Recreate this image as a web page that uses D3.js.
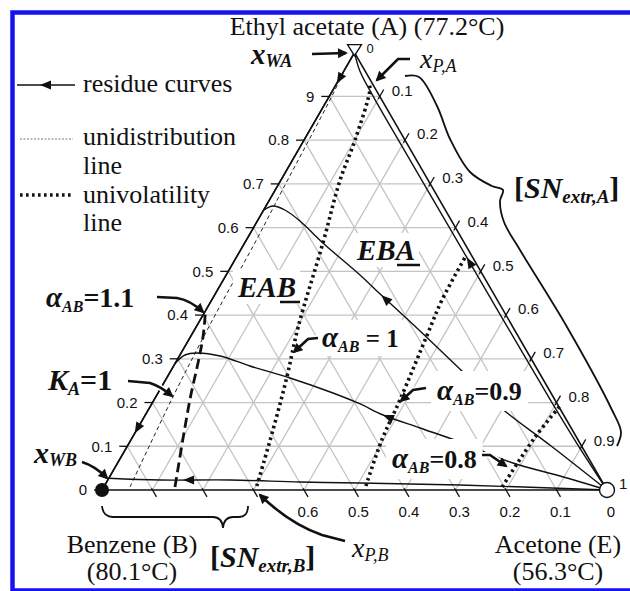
<!DOCTYPE html>
<html><head><meta charset="utf-8">
<script src="https://cdn.jsdelivr.net/npm/d3@7/dist/d3.min.js"></script>
<style>body{margin:0;background:#fff}svg{display:block}text{white-space:pre}</style>
</head><body>
<svg id="chart" width="630" height="591"></svg>
<script>
// ---------------- DATA (ternary compositions: [xA ethyl acetate, xE acetone]; xB = 1 - xA - xE) ----------------
const gridFractions = [0.1,0.2,0.3,0.4,0.5,0.6,0.7,0.8,0.9];
const tickFractions = [0,0.1,0.2,0.3,0.4,0.5,0.6,0.7,0.8,0.9,1];
const leftTickLabels   = ["0","0.1","0.2","0.3","0.4","0.5","0.6","0.7","0.8","9",""];   // xA along B–A edge
const rightTickLabels  = ["0","0.1","0.2","0.3","0.4","0.5","0.6","0.7","0.8","0.9","1"]; // xE along A–E edge
const bottomTickLabels = ["0","0.1","0.2","0.3","0.4","0.5","0.6","","","",""];          // xB along E–B edge

// residue curves (ordered in direction of increasing boiling temperature: E -> ... -> B)
const rcBottom = [[0,1],[0.0114,0.703],[0.016,0.503],[0.0183,0.383],[0.0229,0.242],[0.0229,0.1035],[0.027,0.0]];
const rcLow    = [[0,1],[0.032,0.891],[0.0617,0.783],[0.1098,0.654],[0.1418,0.559],[0.1715,0.471],[0.1967,0.413],[0.2241,0.340],[0.2561,0.244],[0.2836,0.151],[0.3064,0.0805],[0.3133,0.0315],[0.3087,0.010],[0.29,0.0]];
const rcHigh   = [[0,1],[0.10,0.84],[0.1898,0.693],[0.2698,0.580],[0.3636,0.448],[0.4459,0.330],[0.4917,0.265],[0.5648,0.155],[0.6151,0.0845],[0.6403,0.042],[0.6494,0.014],[0.64,0.0]];
const rcEdgeAE = [[0,1],[0.1,0.894],[0.2,0.791],[0.4,0.589],[0.6,0.388],[0.8,0.187],[0.9,0.087],[0.96,0.03],[1,0]];
const rcEdgeAB = [[1,0],[0,0]];
const residueCurves = [rcBottom, rcLow, rcHigh, rcEdgeAE, rcEdgeAB];
// arrow locations on residue curves
const residueArrows = [[rcBottom,[0.023,0.149]],[rcLow,[0.1715,0.471]],[rcHigh,[0.4459,0.330]],[rcEdgeAE,[0.5305,0.4555]],[rcEdgeAB,[0.93,0]],[rcEdgeAB,[0.13,0]]];

// unidistribution line K_A = 1
const unidistribution = [[0.007,0.052],[0.213,0.034],[0.40,0.024],[0.57,0.02],[0.69,0.014],[0.9,0.005],[0.96,0.0]];
// univolatility lines
const alpha11 = [[0.007,0.141],[0.206,0.071],[0.290,0.045],[0.350,0.025],[0.41,0.0]];
const alpha10 = [[0.009,0.302],[0.137,0.270],[0.258,0.237],[0.373,0.202],[0.565,0.155],[0.709,0.117],[0.80,0.101],[0.915,0.073],[0.93,0.064]];
const alpha09 = [[0.009,0.518],[0.114,0.497],[0.206,0.487],[0.359,0.466],[0.434,0.456],[0.531,0.453]];
const alpha08 = [[0.007,0.789],[0.121,0.797],[0.192,0.811]];

// singular points: A (top), B (bottom left), E (bottom right)
const vertexA = [1,0], vertexB = [0,0], vertexE = [0,1];

// ---------------- LAYOUT ----------------
const SERIF = "'Liberation Serif','Times New Roman',serif";
const SANS  = "'Liberation Sans',Arial,sans-serif";
const svg = d3.select("#chart");
const xs = d3.scaleLinear().domain([0,1]).range([102,607]);
const ys = d3.scaleLinear().domain([0,1]).range([490,52.7]);
const P = (a,e) => [xs(e + a/2), ys(a)];
const line = d3.line().x(d=>P(d[0],d[1])[0]).y(d=>P(d[0],d[1])[1]);
const smooth = d3.line().x(d=>P(d[0],d[1])[0]).y(d=>P(d[0],d[1])[1]).curve(d3.curveCatmullRom.alpha(0.5));

const defs = svg.append("defs");
defs.append("marker").attr("id","ah").attr("viewBox","0 0 10 10").attr("refX",8).attr("refY",5)
  .attr("markerUnits","userSpaceOnUse").attr("markerWidth",12).attr("markerHeight",10).attr("orient","auto")
  .append("path").attr("d","M0,0L10,5L0,10Z").attr("fill","#111");

// frame
svg.append("rect").attr("x",12.5).attr("y",12.5).attr("width",660).attr("height",578)
  .attr("fill","none").attr("stroke","#1414f0").attr("stroke-width",4.5);

// grid
const grid = svg.append("g").attr("stroke","#c4c4c4").attr("stroke-width",1.3);
gridFractions.forEach(f=>{
  grid.append("path").attr("d",line([[f,0],[f,1-f]]));
  grid.append("path").attr("d",line([[0,f],[1-f,f]]));
  grid.append("path").attr("d",line([[0,1-f],[1-f,0]]));
});

// ticks and tick labels
const ticks = svg.append("g").attr("stroke","#111").attr("stroke-width",1.3);
const tl = svg.append("g").attr("font-family",SANS).attr("font-size",15).attr("fill","#111");
const c60 = Math.cos(Math.PI/3), s60 = Math.sin(Math.PI/3);
tickFractions.forEach((f,i)=>{
  if (f<1){ const [x,y]=P(f,0);
    ticks.append("line").attr("x1",x).attr("y1",y).attr("x2",x-8).attr("y2",y);
    tl.append("text").attr("x",x-15).attr("y",y).attr("dy","0.35em").attr("text-anchor","end").text(leftTickLabels[i]); }
  { const [x,y]=P(1-f,f);
    if (f>0 && f<1) ticks.append("line").attr("x1",x-3*c60).attr("y1",y+3*s60).attr("x2",x+8*c60).attr("y2",y-8*s60);
    const t = tl.append("text").attr("x",x+12).attr("y",y-6).attr("dy","0.35em").text(rightTickLabels[i]);
    if (f===0) t.attr("font-size",13).attr("y",y-4); }
  if (f>0 && f<1){ const [x,y]=P(0,1-f);
    ticks.append("line").attr("x1",x-2*c60).attr("y1",y-2*s60).attr("x2",x+8*c60).attr("y2",y+8*s60); }
  if (bottomTickLabels[i]){ const [x,y]=P(0,1-f);
    tl.append("text").attr("x",x+4).attr("y",y+27).attr("text-anchor","middle").text(bottomTickLabels[i]); }
});

// unidistribution line
svg.append("path").attr("d",smooth(unidistribution)).attr("fill","none").attr("stroke","#222")
  .attr("stroke-width",1).attr("stroke-dasharray","4,3");
// univolatility lines
svg.append("path").attr("d",smooth(alpha11)).attr("fill","none").attr("stroke","#111")
  .attr("stroke-width",2.8).attr("stroke-dasharray","10,5");
[alpha10,alpha09,alpha08].forEach(d=>svg.append("path").attr("d",smooth(d)).attr("fill","none")
  .attr("stroke","#111").attr("stroke-width",3.6).attr("stroke-dasharray","2.6,3.4"));

// residue curves
const rcG = svg.append("g");
const rcNodes = new Map();
residueCurves.forEach(d=>{
  const p = rcG.append("path").attr("d",smooth(d)).attr("fill","none").attr("stroke","#111").attr("stroke-width",1.4);
  rcNodes.set(d,p.node());
});
// triangle edges
svg.append("path").attr("d",line([vertexA,vertexB,vertexE,vertexA])).attr("fill","none")
  .attr("stroke","#111").attr("stroke-width",1.6);

function arrowAt(node,target){
  const L=node.getTotalLength(); const [tx,ty]=P(target[0],target[1]);
  let best=0,bd=1e12;
  for(let l=0;l<=L;l+=0.5){const q=node.getPointAtLength(l);const d=(q.x-tx)**2+(q.y-ty)**2;if(d<bd){bd=d;best=l;}}
  const p0=node.getPointAtLength(Math.max(0,best-3)),p1=node.getPointAtLength(Math.min(L,best+3));
  const ang=Math.atan2(p1.y-p0.y,p1.x-p0.x)*180/Math.PI; const q=node.getPointAtLength(best);
  svg.append("path").attr("d","M0,0L-11,-4.5L-11,4.5Z").attr("fill","#111").attr("transform",`translate(${q.x},${q.y}) rotate(${ang})`);
}
residueArrows.forEach(([c,t])=>arrowAt(rcNodes.get(c),t));

// rich text helper
function rich(parent,x,y,parts,anchor){
  const t=parent.append("text").attr("x",x).attr("y",y).attr("text-anchor",anchor||"start").attr("font-family",SERIF).attr("fill","#111");
  let cur=0;
  parts.forEach(p=>{const sh=p.sub||0;
    t.append("tspan").text(p.t).attr("font-size",p.s).attr("font-style",p.i?"italic":"normal")
     .attr("font-weight",p.b?"bold":"normal").attr("dy",sh-cur); cur=sh;});
  return t;
}
function boxed(t,pad){
  const bb=t.node().getBBox();
  const r=document.createElementNS("http://www.w3.org/2000/svg","rect");
  t.node().parentNode.insertBefore(r,t.node());
  d3.select(r).attr("x",bb.x-pad).attr("y",bb.y-pad+3).attr("width",bb.width+2*pad).attr("height",bb.height+2*pad-6).attr("fill","#fff");
}

const labels = svg.append("g");
// region labels
const eab = rich(labels,238,297,[{t:"EAB",s:29,i:1,b:1}]); boxed(eab,4);
labels.append("line").attr("x1",280).attr("x2",300).attr("y1",302).attr("y2",302).attr("stroke","#111").attr("stroke-width",2.5);
const eba = rich(labels,357,260,[{t:"EBA",s:29,i:1,b:1}]); boxed(eba,4);
labels.append("line").attr("x1",397).attr("x2",420).attr("y1",265).attr("y2",265).attr("stroke","#111").attr("stroke-width",2.5);

// alpha labels
const aSub = (rest,rs)=>[{t:"α",s:29,i:1,b:1},{t:"AB",s:16,i:1,b:1,sub:5},{t:rest,s:rs||26,b:1}];
const a1 = rich(labels,322,347,aSub(" = 1",25)); boxed(a1,4);
const a09 = rich(labels,437,400,aSub("=0.9",26)); boxed(a09,6);
const a08 = rich(labels,392,468,aSub("=0.8",26)); boxed(a08,6);
rich(labels,46,307,aSub("=1.1",28));
rich(labels,48,390,[{t:"K",s:30,i:1,b:1},{t:"A",s:18,i:1,b:1,sub:5},{t:"=1",s:30,b:1}]);

// x labels
rich(labels,251,64,[{t:"x",s:29,i:1,b:1},{t:"WA",s:18,i:1,b:1,sub:3}]);
rich(labels,34,463,[{t:"x",s:30,i:1,b:1},{t:"WB",s:18,i:1,b:1,sub:3}]);
rich(labels,420,68,[{t:"x",s:28,i:1},{t:"P,A",s:18,i:1,sub:4}]);
rich(labels,352,557,[{t:"x",s:28,i:1},{t:"P,B",s:18,i:1,sub:4}]);

// SN labels
rich(labels,514,198,[{t:"[",s:30,b:1},{t:"SN",s:30,i:1,b:1},{t:"extr,A",s:19,i:1,b:1,sub:5},{t:"]",s:30,b:1,sub:0}]);
rich(labels,210,567,[{t:"[",s:30,b:1},{t:"SN",s:30,i:1,b:1},{t:"extr,B",s:19,i:1,b:1,sub:5},{t:"]",s:30,b:1,sub:0}]);

// vertex labels
rich(labels,367,35,[{t:"Ethyl acetate (A) (77.2°C)",s:26}],"middle");
rich(labels,132,553,[{t:"Benzene (B)",s:26}],"middle");
rich(labels,132,580,[{t:"(80.1°C)",s:26}],"middle");
rich(labels,558,553,[{t:"Acetone (E)",s:26}],"middle");
rich(labels,558,580,[{t:"(56.3°C)",s:26}],"middle");

// callout arrows
const callouts = [
  "M312,54 L346,53",
  "M410,59 L398,59 L377,80",
  "M157,297 L177,298 Q190,300 203,312",
  "M128,381 L150,383 Q160,386 172,396",
  "M318,338 L308,339 L294,352",
  "M426,388 L413,390 L401,401",
  "M482,455 L490,455 L506,466",
  "M82,462 Q95,466 107,478",
  "M345,541 L322,535 Q290,524 260,495"
];
const cg = svg.append("g");
callouts.forEach(d=>cg.append("path").attr("d",d).attr("fill","none").attr("stroke","#fff").attr("stroke-width",6));
callouts.forEach(d=>cg.append("path").attr("d",d).attr("fill","none").attr("stroke","#111").attr("stroke-width",2.6).attr("marker-end","url(#ah)"));

// braces
const braceA = [[405,76],[419,77],[437,106],[450,139],[470,172],[492,186],[503,190],[500,201],[504,222],[520,250],[567,327],[612,410],[621,432],[617,446]];
svg.append("path").attr("d",d3.line().curve(d3.curveCatmullRom.alpha(0.5))(braceA)).attr("fill","none").attr("stroke","#111").attr("stroke-width",1.8);
svg.append("path").attr("d","M102,506 Q103,517 113,517 L213,517 Q222,517 223,528 Q224,517 233,517 L239,517 Q248,517 248,506")
  .attr("fill","none").attr("stroke","#111").attr("stroke-width",1.8);

// legend
const lg = svg.append("g");
lg.append("line").attr("x1",17).attr("x2",75).attr("y1",85).attr("y2",85).attr("stroke","#111").attr("stroke-width",1.5);
lg.append("path").attr("d","M0,0L-11,-4.5L-11,4.5Z").attr("fill","#111").attr("transform","translate(40,85) rotate(180)");
lg.append("line").attr("x1",20).attr("x2",73).attr("y1",139).attr("y2",139).attr("stroke","#777").attr("stroke-width",1).attr("stroke-dasharray","2,1.5");
lg.append("line").attr("x1",20).attr("x2",72).attr("y1",195).attr("y2",195).attr("stroke","#111").attr("stroke-width",3.6).attr("stroke-dasharray","2.6,3.4");
rich(lg,83,92,[{t:"residue curves",s:26}]);
rich(lg,83,145,[{t:"unidistribution",s:26}]);
rich(lg,83,174,[{t:"line",s:26}]);
rich(lg,83,203,[{t:"univolatility",s:26}]);
rich(lg,83,231,[{t:"line",s:26}]);

// singular point markers
const [ax,ay]=P(...vertexA);
svg.append("path").attr("d",`M${ax-7},${ay-8}L${ax+7},${ay-8}L${ax},${ay+3}Z`).attr("fill","#fff").attr("stroke","#111").attr("stroke-width",1.3);
const [bx,by]=P(...vertexB);
svg.append("circle").attr("cx",bx).attr("cy",by).attr("r",7).attr("fill","#111");
const [ex,ey]=P(...vertexE);
svg.append("circle").attr("cx",ex).attr("cy",ey).attr("r",7.5).attr("fill","#fff").attr("stroke","#111").attr("stroke-width",1.4);
</script>
</body></html>
